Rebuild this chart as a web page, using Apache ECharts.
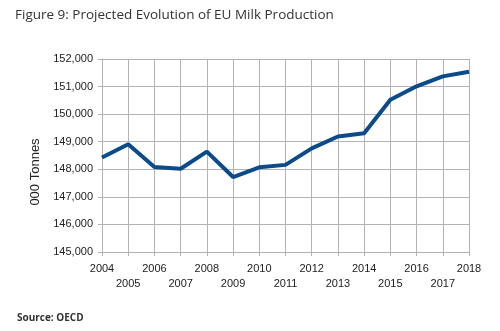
<!DOCTYPE html>
<html><head><meta charset="utf-8">
<script src="https://cdn.jsdelivr.net/npm/echarts@6/dist/echarts.min.js"></script>
<style>html,body{margin:0;padding:0;background:#fff}#c{width:500px;height:331px}</style>
</head><body><div id="c"></div>
<script>
const years = ['2004','2005','2006','2007','2008','2009','2010','2011','2012','2013','2014','2015','2016','2017','2018'];
const production = [148430, 148910, 148080, 148020, 148640, 147720, 148070, 148160, 148760, 149190, 149310, 150520, 151010, 151370, 151540];
const yMin = 145000, yMax = 152000, yStep = 1000;
const titleText = 'Figure 9: Projected Evolution of EU Milk Production';
const yName = '000 Tonnes';
const sourceText = 'Source: OECD';

const chart = echarts.init(document.getElementById('c'), null, {renderer:'canvas'});
const grey = '#b3b3b3';
chart.setOption({
  animation:false,
  backgroundColor:'#fff',
  grid:{left:102, right:31, top:59, bottom:79, containLabel:false},
  xAxis:{type:'category', data:years, boundaryGap:false,
    axisLine:{lineStyle:{color:grey}},
    axisTick:{show:true, length:4, lineStyle:{color:grey}, alignWithLabel:true},
    splitLine:{show:true, lineStyle:{color:grey, width:1}},
    axisLabel:{interval:0, margin:9, fontFamily:'Liberation Sans', fontSize:11, color:'#222', lineHeight:15,
      formatter:(v,i)=> i%2===1 ? '\n'+v : v}
  },
  yAxis:{type:'value', min:yMin, max:yMax, interval:yStep,
    axisLine:{show:true, lineStyle:{color:grey}},
    axisTick:{show:true, length:4, lineStyle:{color:grey}},
    splitLine:{show:true, lineStyle:{color:grey, width:1}},
    axisLabel:{margin:9, fontFamily:'Liberation Sans', fontSize:11, color:'#222',
      formatter:v=>v.toLocaleString('en-US')}
  },
  series:[{type:'line', data:production, symbol:'none', lineStyle:{color:'#0b4a8b', width:4}, itemStyle:{color:'#0b4a8b'}}],
  graphic:[
    {type:'text', left:15, top:8, style:{text:titleText, font:'13.5px "Open Sans"', fill:'#333'}},
    {type:'text', x:35, y:172, rotation:Math.PI/2, style:{text:yName, font:'13px "Liberation Sans"', fill:'#222', align:'center', verticalAlign:'middle'}},
    {type:'text', left:17, top:313, style:{text:sourceText, font:'bold 10px "Open Sans"', fill:'#333'}}
  ]
});
</script></body></html>
